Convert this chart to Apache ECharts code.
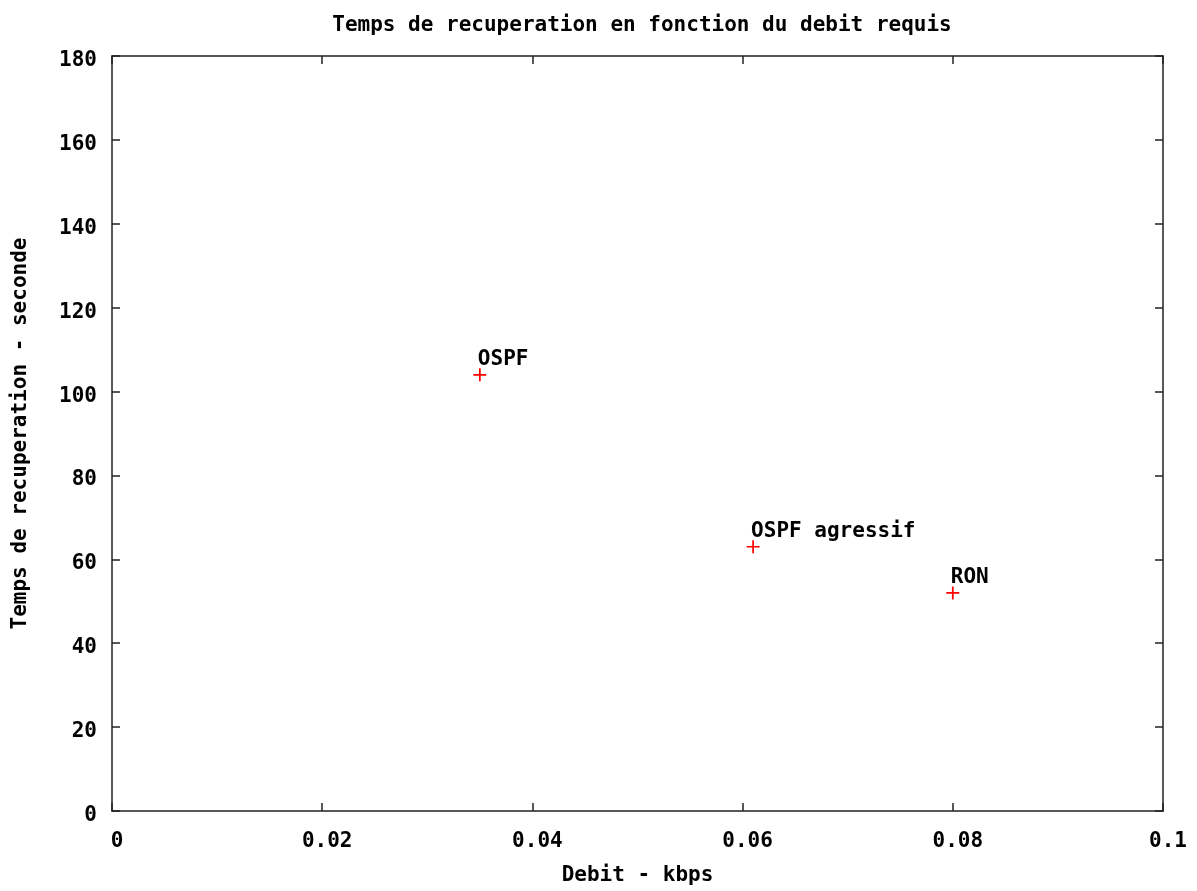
<!DOCTYPE html>
<html>
<head>
<meta charset="utf-8">
<script src="https://cdn.jsdelivr.net/npm/echarts@6/dist/echarts.min.js"></script>
<style>html,body{margin:0;padding:0;background:#fff}#c{width:1197px;height:891px}</style>
</head>
<body>
<div id="c"></div>
<script>
const titleText = 'Temps de recuperation en fonction du debit requis';
const xAxisName = 'Debit - kbps';
const yAxisName = 'Temps de recuperation - seconde';
const pointNames = ['OSPF', 'OSPF agressif', 'RON'];
const debitValues = [0.035, 0.061, 0.08];
const tempsValues = [104, 63, 52];

const FONT = '"DejaVu Sans Mono", "Liberation Mono", monospace';
const txt = {fontFamily: FONT, fontWeight: 'bold', fontSize: 21, color: '#000'};
const plus = 'path://M5.2,0H6.8V5.2H12V6.8H6.8V12H5.2V6.8H0V5.2H5.2Z';

const chart = echarts.init(document.getElementById('c'));
const frameLine = {show: true, onZero: false, lineStyle: {color: '#222', width: 1.5}};
const tick = {show: true, inside: true, length: 8, lineStyle: {color: '#222', width: 1.5}};
chart.setOption({
  animation: false,
  backgroundColor: '#fff',
  title: {
    text: titleText, left: 637, top: 10, textAlign: 'center',
    textStyle: Object.assign({}, txt)
  },
  grid: {left: 112, right: 34, top: 56, bottom: 78, containLabel: false},
  xAxis: [{
    type: 'value', min: 0, max: 0.1, interval: 0.02,
    name: xAxisName, nameLocation: 'middle', nameGap: 54,
    nameTextStyle: txt,
    axisLine: frameLine, axisTick: tick,
    axisLabel: Object.assign({margin: 20, padding: [0, 0, 0, 10], formatter: v => String(+v.toFixed(2))}, txt),
    splitLine: {show: false}
  }, {
    type: 'value', min: 0, max: 0.1, interval: 0.02, position: 'top',
    axisLine: frameLine, axisTick: tick, axisLabel: {show: false}, splitLine: {show: false}
  }],
  yAxis: [{
    type: 'value', min: 0, max: 180, interval: 20,
    name: yAxisName, nameLocation: 'middle', nameGap: 81, nameRotate: 90,
    nameTextStyle: txt,
    axisLine: frameLine, axisTick: tick,
    axisLabel: Object.assign({margin: 15, verticalAlign: 'top', lineHeight: 9}, txt),
    splitLine: {show: false}
  }, {
    type: 'value', min: 0, max: 180, interval: 20, position: 'right',
    axisLine: frameLine, axisTick: tick, axisLabel: {show: false}, splitLine: {show: false}
  }],
  series: [{
    type: 'scatter',
    symbol: plus, symbolSize: 13,
    itemStyle: {color: '#ff0000', opacity: 1},
    data: debitValues.map((x, i) => ({value: [x, tempsValues[i]], name: pointNames[i]})),
    label: Object.assign({show: true, position: 'top', align: 'left', distance: 0, offset: [-2, 2], opacity: 1, textBorderWidth: 0, formatter: p => p.name}, txt)
  }]
});
</script>
</body>
</html>
